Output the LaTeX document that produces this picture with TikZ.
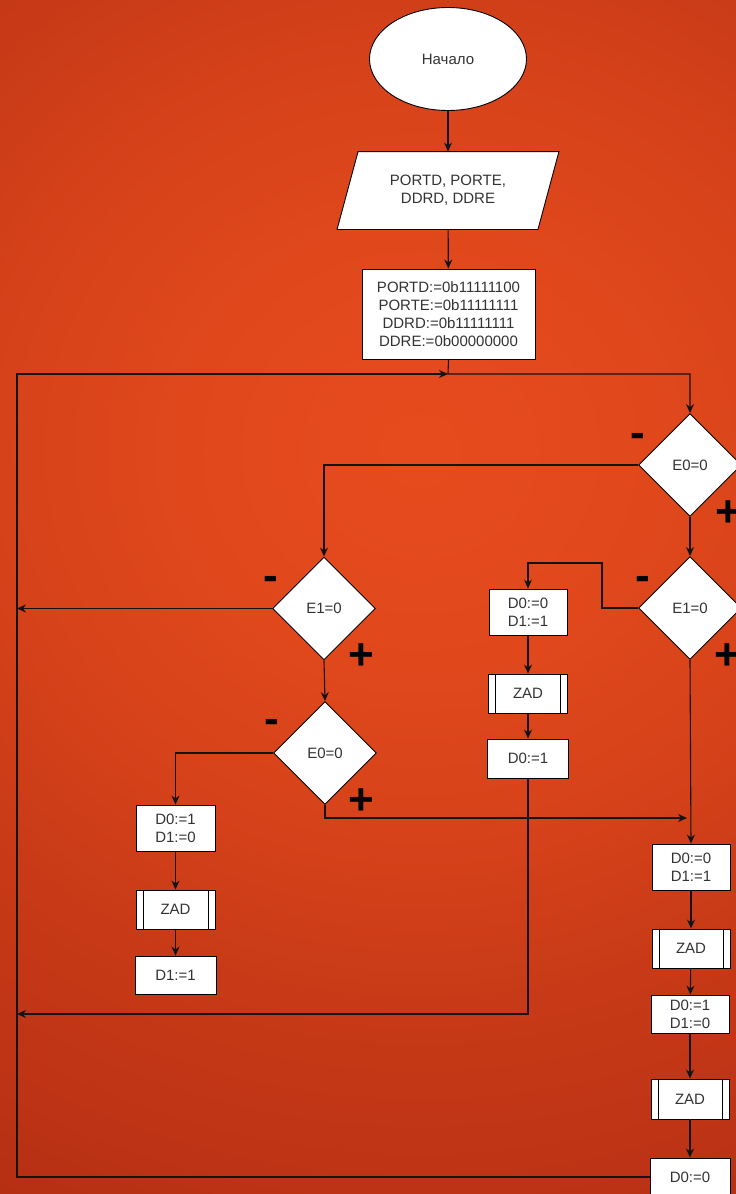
\documentclass[tikz,border=0pt]{standalone}
\usepackage{fontspec}
\setmainfont{Liberation Sans}
\usetikzlibrary{shapes.geometric,arrows.meta}
\definecolor{bga}{HTML}{E64B1D}
\definecolor{bgb}{HTML}{E0481C}
\definecolor{bgc}{HTML}{D6421A}
\definecolor{bgd}{HTML}{C83A17}
\definecolor{bge}{HTML}{BE3415}
\definecolor{bgf}{HTML}{B02C12}
\definecolor{bgg}{HTML}{A82810}
\definecolor{txt}{HTML}{333333}
\pgfdeclareradialshading{bgshade}{\pgfpoint{0bp}{0bp}}{color(0bp)=(bga); color(7bp)=(bgb); color(12.4bp)=(bgc); color(17.7bp)=(bgd); color(23bp)=(bge); color(29.3bp)=(bgf); color(35.4bp)=(bgg); color(50bp)=(bgg)}
\pgfdeclarelayer{bglayer}
\pgfdeclarelayer{shapelayer}
\pgfsetlayers{bglayer,shapelayer,main}
\begin{document}
\begin{tikzpicture}[x=1pt,y=-1pt,
  box/.style={draw=black, fill=white, line width=0.9pt, rectangle, inner sep=0pt,
    text=txt, font=\fontsize{15}{18}\selectfont, align=center},
  sub/.style={box, path picture={
    \draw[line width=0.9pt] ([xshift=7pt]path picture bounding box.north west) -- ([xshift=7pt]path picture bounding box.south west);
    \draw[line width=0.9pt] ([xshift=-7pt]path picture bounding box.north east) -- ([xshift=-7pt]path picture bounding box.south east);}},
  dec/.style={box, diamond, minimum width=103pt, minimum height=103pt},
  sign/.style={font=\fontsize{44}{44}\selectfont\bfseries, anchor=base, inner sep=0pt, text=black},
  flow/.style={line width=1.1pt, draw=black!92, -{Stealth[length=9pt,width=8pt]}}
]
\useasboundingbox (0,0) rectangle (736,1194);
\clip (0,0) rectangle (736,1194);
\begin{pgfonlayer}{bglayer}
\shade[shading=bgshade] (-430,-330) rectangle (1270,1230);
\end{pgfonlayer}

% nodes
\node[box, ellipse, minimum width=157pt, minimum height=103pt] (start) at (448,59) {Начало};
\node[box, draw=none, fill=none, minimum width=200pt, minimum height=77pt] (inp) at (448,190.5) {PORTD, PORTE,\\DDRD, DDRE};
\begin{pgfonlayer}{shapelayer}
\draw[line width=0.9pt, fill=white] ([xshift=-10.5pt]inp.south west) -- ([xshift=10.5pt]inp.north west)
  -- ([xshift=10.5pt]inp.north east) -- ([xshift=-10.5pt]inp.south east) -- cycle;
\end{pgfonlayer}
\node[box, minimum width=173pt, minimum height=90pt] (init) at (448.5,314)
  {PORTD:=0b11111100\\PORTE:=0b11111111\\DDRD:=0b11111111\\DDRE:=0b00000000};
\coordinate (j) at (448,374);

\node[dec] (d1) at (690,465) {E0=0};
\node[dec] (d2) at (324,608.5) {E1=0};
\node[dec] (d3) at (690,608) {E1=0};
\node[dec] (d4) at (325,753) {E0=0};

\node[box, minimum width=79pt, minimum height=46pt] (bA) at (175.5,828) {D0:=1\\D1:=0};
\node[sub, minimum width=79pt, minimum height=39pt] (zA) at (175.5,909.5) {ZAD};
\node[box, minimum width=81pt, minimum height=38pt] (cA) at (175.5,975) {D1:=1};

\node[box, minimum width=78pt, minimum height=46pt] (bB) at (528,612) {D0:=0\\D1:=1};
\node[sub, minimum width=79pt, minimum height=39pt] (zB) at (528,693.5) {ZAD};
\node[box, minimum width=81pt, minimum height=39pt] (cB) at (528,758.5) {D0:=1};

\node[box, minimum width=78pt, minimum height=46pt] (bC) at (691,867) {D0:=0\\D1:=1};
\node[sub, minimum width=78pt, minimum height=39pt] (zC) at (691,948.5) {ZAD};
\node[box, minimum width=78pt, minimum height=38pt] (bD) at (690,1014) {D0:=1\\D1:=0};
\node[sub, minimum width=78pt, minimum height=40pt] (zD) at (690,1099) {ZAD};
\node[box, minimum width=80pt, minimum height=38pt] (cD) at (690,1177) {D0:=0};

% free ends
\coordinate (lw1) at (17,608.5);
\coordinate (lw2) at (17,1014);
\coordinate (lw3) at (17,374);
\coordinate (rp) at (687,818);
\coordinate (k1) at (602,563);

% connectors
\draw[flow] (start) -- (inp);
\draw[flow] (inp) -- (init);
\draw[flow] (init.south) -- (j) -| (d1.north);
\draw[flow] (d1.west) -| (d2.north);
\draw[flow] (d2.west) -- (lw1);
\draw[flow] (d2.south) -- (d4.north);
\draw[flow] (d4.west) -| (bA.north);
\draw[flow] (bA) -- (zA);
\draw[flow] (zA) -- (cA);
\draw[flow] (d4.south) |- (rp);
\draw[flow] (d1.south) -- (d3.north);
\draw[flow] (d3.west) -| (k1) -| (bB.north);
\draw[flow] (bB) -- (zB);
\draw[flow] (zB) -- (cB);
\draw[flow] (cB.south) |- (lw2);
\draw[flow] (d3.south) -- (bC.north);
\draw[flow] (bC) -- (zC);
\draw[flow] (zC) -- (bD);
\draw[flow] (bD) -- (zD);
\draw[flow] (zD) -- (cD);
\draw[flow] (cD.west) -| (lw3) -- (j);

% branch signs
\node[sign] (s1m) at (638,447.5) {-};
\node[sign] (s1p) at (728,526) {+};
\node[sign] (s2m) at (271,590.5) {-};
\node[sign] (s2p) at (361,669) {+};
\node[sign] (s3m) at (643,590.5) {-};
\node[sign] (s3p) at (727,669) {+};
\node[sign] (s4m) at (272,733.5) {-};
\node[sign] (s4p) at (361,814) {+};
\end{tikzpicture}
\end{document}
